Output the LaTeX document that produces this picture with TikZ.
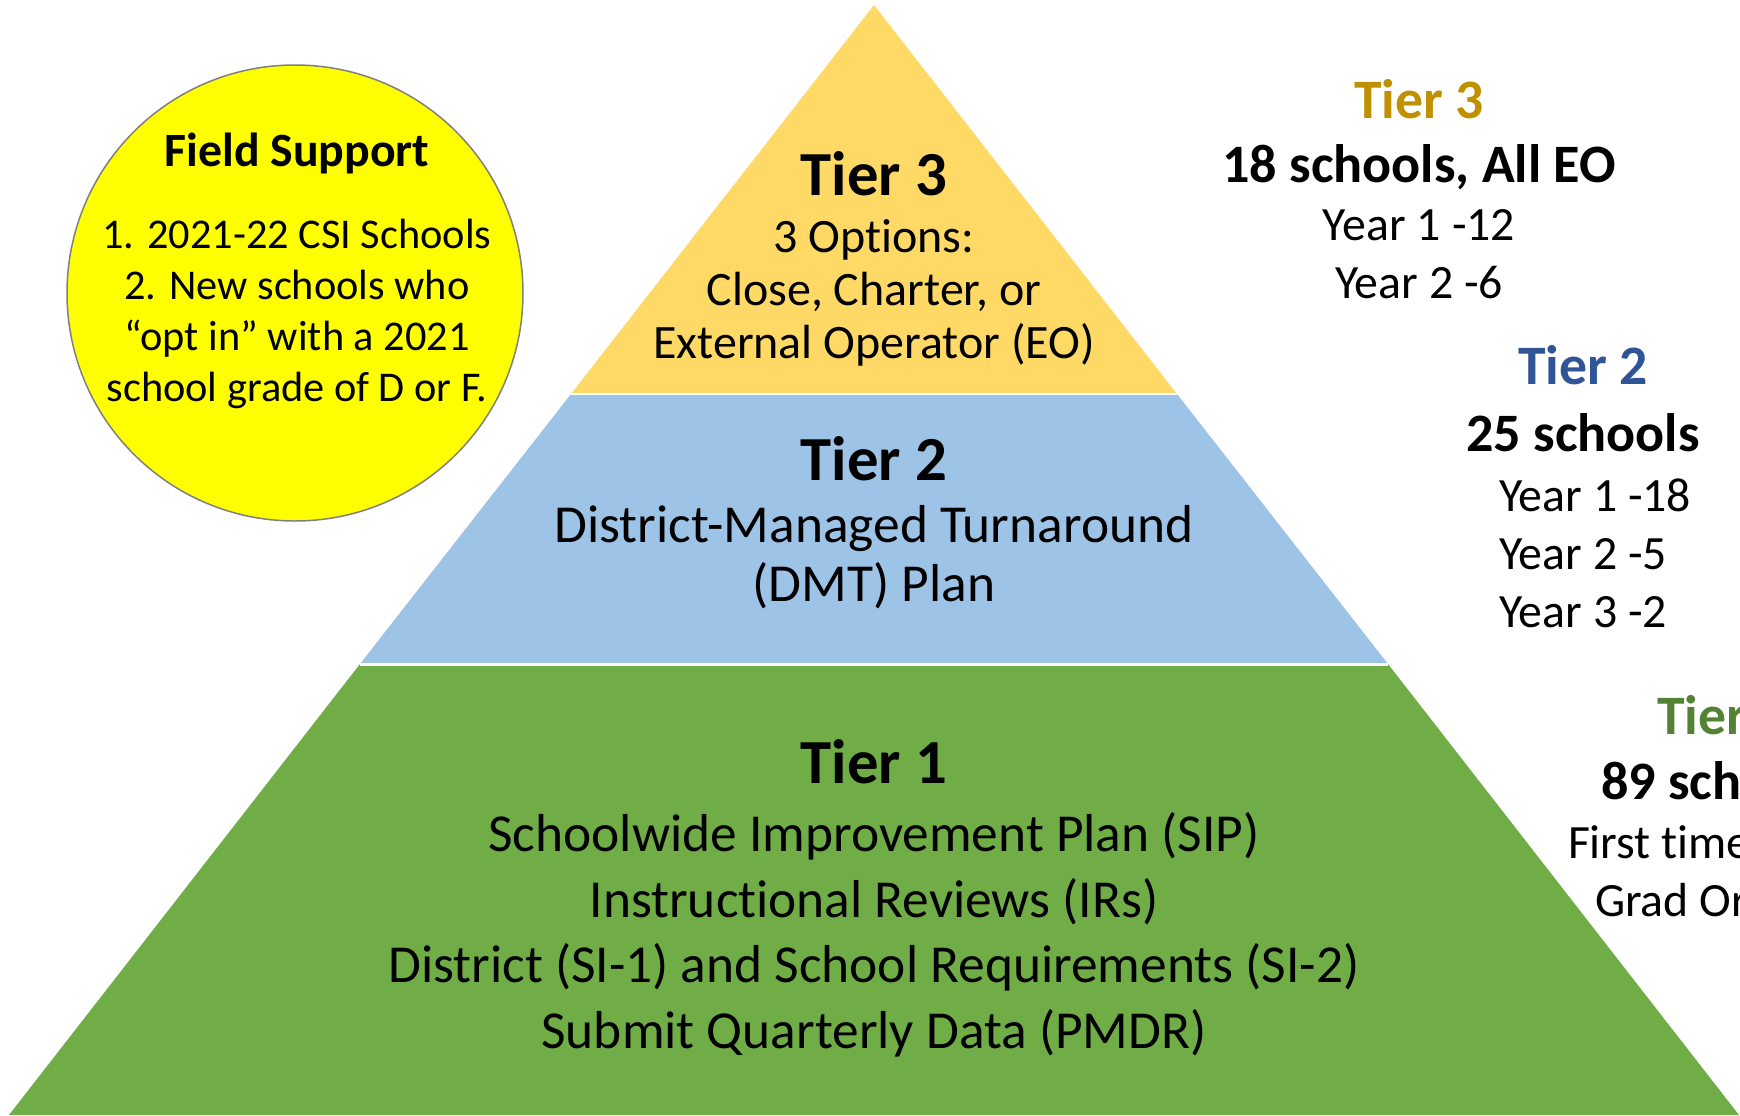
\documentclass[tikz,border=0pt]{standalone}
\usepackage{fontspec}
\setmainfont{Carlito}[Ligatures=NoCommon]
\usepackage{tikz}
\definecolor{tierthreefill}{HTML}{FFD966}
\definecolor{tiertwofill}{HTML}{9DC3E6}
\definecolor{tieronefill}{HTML}{70AD47}
\definecolor{tierthreeink}{HTML}{BF9000}
\definecolor{tiertwoink}{HTML}{2F5597}
\definecolor{tieroneink}{HTML}{548235}
\definecolor{fieldfill}{HTML}{FFFF00}
\definecolor{fieldline}{HTML}{7F7F7F}
\newcommand{\pxunit}{0.02cm}
\tikzstyle{txt}=[inner sep=0, outer sep=0, anchor=base]
\tikzstyle{tiertitle}=[txt, font=\bfseries\fontsize{35.7}{43}\selectfont]
\tikzstyle{topbody}=[txt, font=\fontsize{27.3}{30}\selectfont]
\tikzstyle{tierbody}=[txt, font=\fontsize{30.4}{36}\selectfont]
\tikzstyle{fieldtitle}=[txt, font=\bfseries\fontsize{27.2}{32}\selectfont]
\tikzstyle{fieldbody}=[txt, font=\fontsize{24.1}{29}\selectfont]
\tikzstyle{sidehead}=[txt, font=\bfseries\fontsize{31.7}{38}\selectfont]
\tikzstyle{sidecount}=[txt, font=\bfseries\fontsize{30.8}{37}\selectfont]
\tikzstyle{sideyear}=[txt, font=\fontsize{27.2}{32}\selectfont]
\tikzstyle{gapline}=[draw=white, line width=1.7pt]

\begin{document}
\begin{tikzpicture}[x=\pxunit, y=-\pxunit]
    \useasboundingbox (0, 0) rectangle (1740, 1115);
    \clip (0, 0) rectangle (1740, 1115);
    % pyramid corners
    \coordinate (apex) at (874, 5);
    \coordinate (l3) at (571, 394);
    \coordinate (r3) at (1177, 394);
    \coordinate (l2) at (360, 664);
    \coordinate (r2) at (1388, 664);
    \coordinate (l1) at (9, 1115);
    \coordinate (r1) at (1739, 1115);
    \fill[tierthreefill] (apex) -- (l3) -- (r3) -- cycle;
    \fill[tiertwofill] (l3) -- (l2) -- (r2) -- (r3) -- cycle;
    \fill[tieronefill] (l2) -- (l1) -- (r1) -- (r2) -- cycle;
    \draw[gapline] (l3) -- (r3);
    \draw[gapline] (l2) -- (r2);

    % tier 3
    \node[tiertitle] (t3title) at (874, 195) {Tier 3};
    \node[topbody] (t3a) at (874, 252) {3 Options:};
    \node[topbody] (t3b) at (874, 305) {Close, Charter, or};
    \node[topbody] (t3c) at (874, 358) {External Operator (EO)};
    % tier 2
    \node[tiertitle] (t2title) at (874, 480) {Tier 2};
    \node[tierbody] (t2a) at (874, 542) {District-Managed Turnaround};
    \node[tierbody] (t2b) at (874, 601) {(DMT) Plan};
    % tier 1
    \node[tiertitle] (t1title) at (874, 783) {Tier 1};
    \node[tierbody] (t1a) at (874, 851.5) {Schoolwide Improvement Plan (SIP)};
    \node[tierbody] (t1b) at (874, 917) {Instructional Reviews (IRs)};
    \node[tierbody] (t1c) at (874, 982.5) {District (SI-1) and School Requirements (SI-2)};
    \node[tierbody] (t1d) at (874, 1048) {Submit Quarterly Data (PMDR)};

    % field support circle
    \draw[fill=fieldfill, draw=fieldline, line width=0.85pt] (295, 293) circle (228);
    \node[fieldtitle] (fieldtitle) at (297, 166) {Field Support};
    \node[fieldbody] (fielda) at (297, 248) {1. 2021-22 CSI Schools};
    \node[fieldbody] (fieldb) at (297, 299) {2. New schools who};
    \node[fieldbody] (fieldc) at (297, 350) {“opt in” with a 2021};
    \node[fieldbody] (fieldd) at (297, 401) {school grade of D or F.};

    % counts on the right
    \node[sidehead, text=tierthreeink] (s3head) at (1419, 118) {Tier 3};
    \node[sidecount] (s3count) at (1419, 182) {18 schools, All EO};
    \node[sideyear] (s3a) at (1419, 240) {Year 1 -12};
    \node[sideyear] (s3b) at (1419, 298) {Year 2 -6};

    \node[sidehead, text=tiertwoink] (s2head) at (1583, 384) {Tier 2};
    \node[sidecount] (s2count) at (1583, 451) {25 schools};
    \node[sideyear, anchor=base west] (s2a) at (1499, 511) {Year 1 -18};
    \node[sideyear, anchor=base west] (s2b) at (1499, 569) {Year 2 -5};
    \node[sideyear, anchor=base west] (s2c) at (1499, 627) {Year 3 -2};

    \node[sidehead, text=tieroneink, anchor=base west] (s1head) at (1657, 734) {Tier 1};
    \node[sidecount, anchor=base west] (s1count) at (1601, 799) {89 schools};
    \node[sideyear, anchor=base west] (s1a) at (1568, 858) {First time};
    \node[sideyear, anchor=base west] (s1b) at (1595, 916) {Grad Or};
\end{tikzpicture}
\end{document}
